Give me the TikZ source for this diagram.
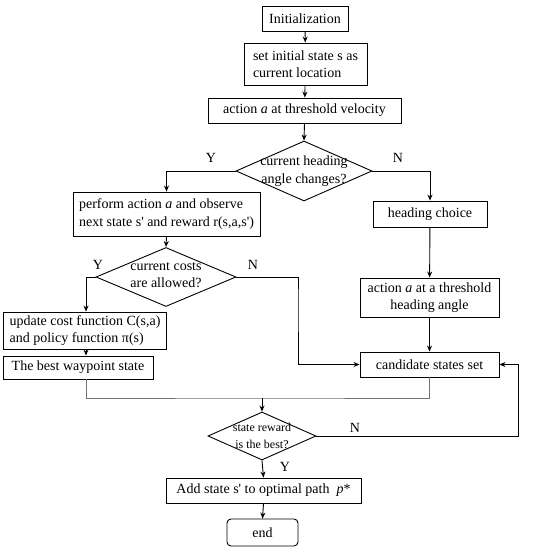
\documentclass[tikz,border=0pt]{standalone}
\usepackage{fontspec}
\setmainfont{Liberation Serif}
\usetikzlibrary{shapes.geometric,arrows.meta}
\newcommand{\qs}{\textquotesingle}
\begin{document}
\begin{tikzpicture}[x=1pt,y=-1pt,
  every node/.style={font=\fontsize{14}{17.5}\selectfont},
  box/.style={draw,line width=0.9pt,inner sep=0pt,align=center},
  lbox/.style={draw,line width=0.9pt,inner sep=0pt,align=left},
  dia/.style={draw,line width=0.9pt,diamond,inner sep=0pt},
  dtext/.style={inner sep=0pt,align=center},
  lab/.style={inner sep=0pt},
  arr/.style={line width=0.9pt,-{Stealth[length=6pt,width=5pt]}},
  gl/.style={line width=0.7pt,draw=black!55}]
\useasboundingbox (0,0) rectangle (548,550);
% nodes
\node[box,minimum width=86,minimum height=25] (init) at (305,18.5) {Initialization};
\node[lbox,minimum width=123,minimum height=42] (set) at (305.5,64) {set initial state s as\\current location};
\node[box,minimum width=193,minimum height=25] (act) at (304.5,110.5) {action \textit{a} at threshold velocity};
\node[dia,minimum width=136,minimum height=60] (d1) at (304,171) {};
\node[dtext] (d1t) at (304,171) {current heading\\angle changes?};
\node[lbox,minimum width=187,minimum height=44] (perf) at (166.5,214) {perform action \textit{a} and observe\\next state s\qs{} and reward r(s,a,s\qs)};
\node[box,minimum width=114,minimum height=26] (head) at (430,214) {heading choice};
\node[dia,minimum width=140,minimum height=59] (d2) at (166,277) {};
\node[dtext] (d2t) at (166,275) {current costs\\are allowed?};
\node[lbox,minimum width=163,minimum height=37] (upd) at (85,330.5) {update cost function C(s,a)\\and policy function π(s)};
\node[box,minimum width=150,minimum height=23] (best) at (78,367.5) {The best waypoint state};
\node[box,minimum width=139,minimum height=39] (actang) at (429.5,297.5) {action \textit{a} at a threshold\\heading angle};
\node[box,minimum width=139,minimum height=25] (cand) at (429.5,364.5) {candidate states set};
\node[dia,minimum width=108,minimum height=48] (d3) at (262,436) {};
\node[dtext,font=\fontsize{12}{17}\selectfont] (d3t) at (262,436) {state reward\\is the best?};
\node[box,minimum width=195,minimum height=25] (add) at (263.5,490.5) {Add state s\qs{} to optimal path \ \textit{p}*};
\node[box,rounded corners=4pt,minimum width=71,minimum height=27] (end) at (262.5,532.5) {end};
% labels
\node[lab] (y1) at (211,158) {Y};
\node[lab] (n1) at (398,158) {N};
\node[lab] (y2) at (98,265) {Y};
\node[lab] (n2) at (253,265) {N};
\node[lab] (n3) at (355,428) {N};
\node[lab] (y3) at (285,467) {Y};
% coordinates
\coordinate (k2) at (298,300);
\coordinate (j) at (262,398);
\coordinate (r) at (518,436);
% connectors
\draw[arr] (init) -- (set);
\draw[arr] (set) -- (act);
\draw[arr] (act.south) -- (d1.north);
\draw[arr] (d1.west) -| (perf.north);
\draw[arr] (d1.east) -| (head.north);
\draw[arr] (head) -- (actang);
\draw[arr] (actang) -- (cand);
\draw[arr] (perf.south) -- (d2.north);
\draw[arr] (d2.west) -| ([xshift=1pt]upd.north);
\draw[arr] ([xshift=1pt]upd.south) -- ([xshift=1pt]upd.south |- best.north);
\draw[arr] (d2.east) -| (k2) |- (cand.west);
\draw[gl] ([xshift=1pt]upd.south |- best.south) |- (j) -| (cand.south);
\draw[arr] (j) -- (d3.north);
\draw[arr] (d3.east) -- (r) |- (cand.east);
\draw[arr] (d3.south) -- (add.north);
\draw[arr] (add.south) -- (end.north);
\end{tikzpicture}
\end{document}
